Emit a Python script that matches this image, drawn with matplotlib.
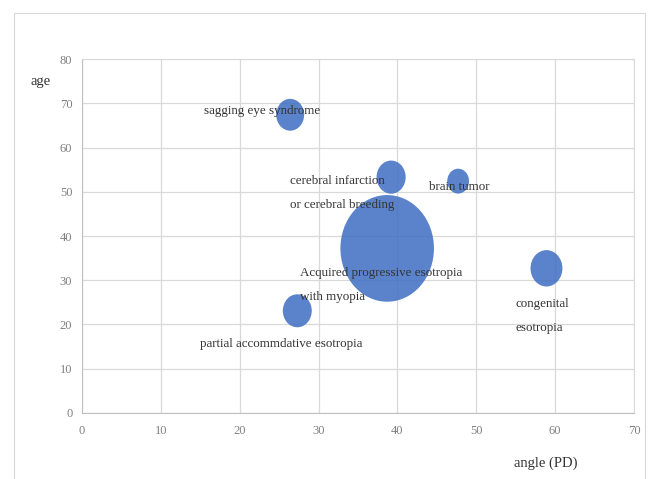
import matplotlib.pyplot as plt
from matplotlib.path import Path
from matplotlib.transforms import Affine2D
from matplotlib.patches import Rectangle

# datos de las burbujas
labels = ['sagging eye syndrome',
          'cerebral infarction\nor cerebral breeding',
          'brain tumor',
          'Acquired progressive esotropia\nwith myopia',
          'congenital\nesotropia',
          'partial accommdative esotropia']
angle_pd = [26.4, 39.2, 47.7, 38.7, 58.9, 27.3]
age = [67.4, 53.3, 52.4, 37.2, 32.7, 23.1]
cases = [8.2, 8.9, 5.0, 92, 10.7, 8.8]

# desplazamiento de las etiquetas (puntos)
offsets = [(-62, 3), (-73, -11.5), (-21, -4), (-63, -26.5), (-22, -34.5), (-70, -24)]

plt.rcParams['font.family'] = ['Liberation Serif', 'DejaVu Serif']

fig = plt.figure(figsize=(6.57, 4.79), dpi=100)
ax = fig.add_axes([0.1248, 0.1378, 0.8402, 0.739])

# marco exterior del grafico
fig.patches.append(Rectangle((14 / 657, -0.02), 631 / 657, 0.9929, transform=fig.transFigure,
                             fill=False, edgecolor='#d9d9d9', linewidth=0.8))

# burbujas un poco alargadas en vertical, como en la imagen
elipse = Path.unit_circle().transformed(Affine2D().scale(1.0, 1.14))
escala = 64.1
sizes = [c * escala for c in cases]
ax.scatter(angle_pd, age, s=sizes, marker=elipse, color='#4472C4', alpha=0.88,
           edgecolors='none', zorder=3)

for lab, x, y, off in zip(labels, angle_pd, age, offsets):
    ax.annotate(lab, (x, y), xytext=off, textcoords='offset points',
                ha='left', va='center', fontsize=9.4, color='#333333',
                linespacing=2.35, zorder=4)

ax.set_xlim(0, 70)
ax.set_ylim(0, 80)
ax.set_xticks(range(0, 71, 10))
ax.set_yticks(range(0, 81, 10))
ax.grid(True, color='#d9d9d9', linewidth=0.9)
ax.set_axisbelow(True)
ax.tick_params(length=0, labelsize=9, labelcolor='#808080')
ax.tick_params(axis='x', pad=9)
ax.tick_params(axis='y', pad=7)
for s in ['top', 'right']:
    ax.spines[s].set_color('#d9d9d9')
for s in ['left', 'bottom']:
    ax.spines[s].set_color('#bfbfbf')

fig.text(41 / 657, 1 - 82 / 479, 'age', ha='center', va='center', fontsize=10.5,
         color='#333333')
fig.text(546 / 657, 1 - 463 / 479, 'angle (PD)', ha='center', va='center', fontsize=10.5,
         color='#333333')

plt.savefig('out.png', dpi=100)
